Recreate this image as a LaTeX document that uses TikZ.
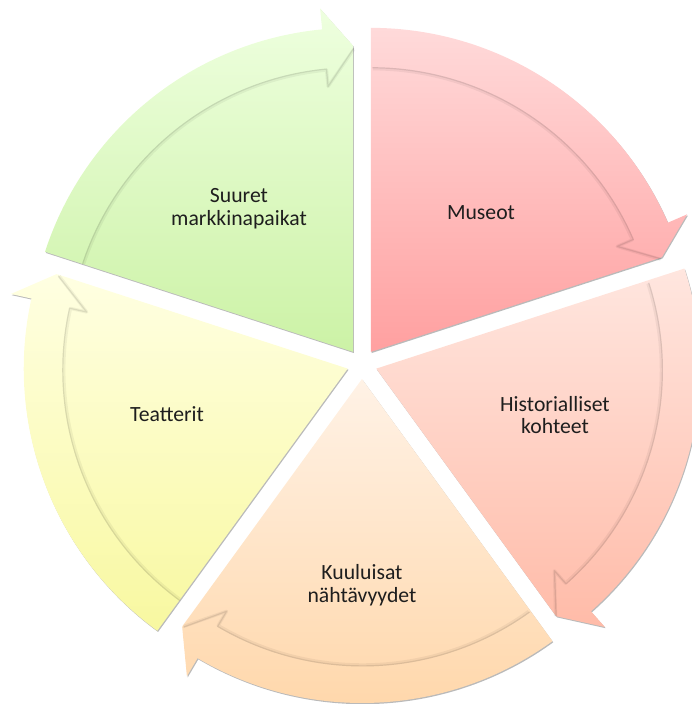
\documentclass[tikz,border=0pt]{standalone}
\usepackage{fontspec}
\setmainfont{Carlito}
\usetikzlibrary{shadows}
\definecolor{redT}{HTML}{FFDADA}\definecolor{redB}{HTML}{FFA0A0}
\definecolor{salT}{HTML}{FFE6DF}\definecolor{salB}{HTML}{FFBBA8}
\definecolor{oraT}{HTML}{FFF2E6}\definecolor{oraB}{HTML}{FFD6A8}
\definecolor{yelT}{HTML}{FFFFE2}\definecolor{yelB}{HTML}{F8F8A0}
\definecolor{grnT}{HTML}{EEFFDF}\definecolor{grnB}{HTML}{CCF2A6}
\definecolor{txt}{HTML}{1E1E1E}
\tikzset{
  segshadow/.style={drop shadow={shadow xshift=0.8pt,shadow yshift=-1.2pt,opacity=0.45,fill=black!60}},
  softshade/.style={draw=black,draw opacity=0.05,line width=3.2pt,line join=round},
  innershade/.style={draw=black,draw opacity=0.09,line width=1.2pt,line join=round},
  lbl/.style={font=\fontsize{21.7}{22.7}\selectfont,text=txt,align=center,inner sep=0pt}
}
\newcommand{\cycseg}[3]{%
\begin{scope}[shift={(#1:15)}]
 \pgfmathsetmacro\aone{#1-36}
 \pgfmathsetmacro\atwo{#1+36}
 \pgfmathsetmacro\ahead{#1-36+5.5}
 \path[segshadow, top color=#2, bottom color=#3]
   (0,0) -- (\atwo:305) arc[start angle=\atwo, end angle=\aone, radius=305] -- cycle
   (\atwo:286) -- (\atwo:324)
   arc[start angle=\atwo, end angle=\ahead, radius=324] -- (\ahead:345)
   -- (\aone:306) -- (\ahead:267) -- (\ahead:286)
   arc[start angle=\ahead, end angle=\atwo, radius=286] -- cycle;
 \begin{scope}[shift={(0.6,-1.4)}]
 \path[softshade] (\aone:304) -- (\ahead:268) -- (\ahead:284.5)
   arc[start angle=\ahead, end angle=\atwo-0.3, radius=284.5];
 \path[innershade] (\aone:305) -- (\ahead:268) -- (\ahead:285.5)
   arc[start angle=\ahead, end angle=\atwo-0.2, radius=285.5];
 \end{scope}
\end{scope}}
\begin{document}
\begin{tikzpicture}[x=1pt,y=1pt]
\useasboundingbox (-362,-340) rectangle (330,364);
\cycseg{54}{redT}{redB}
\cycseg{-18}{salT}{salB}
\cycseg{-90}{oraT}{oraB}
\cycseg{198}{yelT}{yelB}
\cycseg{126}{grnT}{grnB}
\node[lbl] (museot) at (119,151) {Museot};
\node[lbl] (hist) at (193,-51) {Historialliset\\kohteet};
\node[lbl] (kuul) at (0,-221) {Kuuluisat\\nähtävyydet};
\node[lbl] (teat) at (-195,-50) {Teatterit};
\node[lbl] (suur) at (-123,155) {Suuret\\markkinapaikat};
\end{tikzpicture}
\end{document}
